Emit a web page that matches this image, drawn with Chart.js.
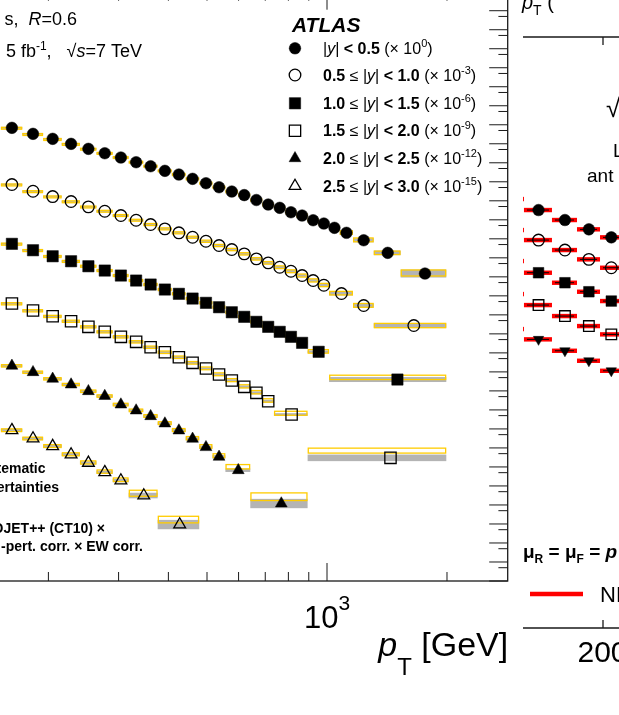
<!DOCTYPE html>
<html><head><meta charset="utf-8">
<script src="https://cdn.jsdelivr.net/npm/chart.js@4.4.1/dist/chart.umd.min.js"></script>
<style>
html,body{margin:0;padding:0;width:619px;height:715px;overflow:hidden;background:#fff;}
#wrapL{position:absolute;left:-90px;top:-20px;width:600px;height:720px;}
#wrapR{position:absolute;left:515px;top:0px;width:104px;height:715px;}
</style></head><body>
<div id="wrapL"><canvas id="cL"></canvas></div>
<div id="wrapR"><canvas id="cR"></canvas></div>
<script>
// ---------------- data: main panel (inclusive jet cross-section, pb/GeV) ----------------
const rapidityLabels = ['|y| < 0.5','0.5 ≤ |y| < 1.0','1.0 ≤ |y| < 1.5','1.5 ≤ |y| < 2.0','2.0 ≤ |y| < 2.5','2.5 ≤ |y| < 3.0'];
const scaleExponents = [0,-3,-6,-9,-12,-15];
const markerStyles = ['circle','circle','rect','rect','triangle','triangle'];
const markerFilled = [true,false,true,false,true,false];

const edges0 = [152,172,194,216,240,264,290,318,346,376,408,442,478,516,556,598,642,688,736,786,838,894,952,1012,1076,1162,1310,1530,1992];
const edges1 = [152,172,194,216,240,264,290,318,346,376,408,442,478,516,556,598,642,688,736,786,838,894,952,1012,1162,1310,1992];
const edges2 = [152,172,194,216,240,264,290,318,346,376,408,442,478,516,556,598,642,688,736,786,838,894,1012,1992];
const edges3 = [152,172,194,216,240,264,290,318,346,376,408,442,478,516,556,598,642,688,736,894,1992];
const edges4 = [152,172,194,216,240,264,290,318,346,376,408,442,478,516,556,642,894];
const edges5 = [152,172,194,216,240,264,290,318,376,478];

const xsec0 = [689,333,182,99,54,31.8,18.9,10.7,6.58,3.77,2.41,1.43,0.84,0.516,0.307,0.2,0.11,0.0636,0.0427,0.025,0.0168,0.0095,0.00637,0.00379,0.00207,0.00084,0.000183,1.49e-5];
const xsec1 = [716,318,167,91.4,48.1,28.2,16.8,9.5,5.64,3.35,2.07,1.21,0.747,0.444,0.273,0.162,0.0885,0.0544,0.032,0.0197,0.0117,0.00638,0.00361,0.00132,0.000309,2.74e-5];
const xsec2 = [545,251,121,66.2,36.1,21.4,11.7,6.38,3.94,2.15,1.28,0.721,0.429,0.252,0.137,0.0787,0.043,0.0234,0.0128,0.00698,0.00337,0.00114,3.96e-5];
const xsec3 = [394,169,84.5,46.1,23.4,12.8,6.98,3.81,1.98,1.08,0.59,0.299,0.15,0.0726,0.0351,0.0164,0.00791,0.00286,0.00057,3.01e-6];
const xsec4 = [208,95.9,43.1,21.6,9.6,5.37,1.91,0.927,0.465,0.192,0.0822,0.0301,0.0109,0.0034,0.00067,1.19e-5];
const xsec5 = [85.3,31.2,12.3,4.49,1.64,0.526,0.193,0.0313,0.00093];

// systematic uncertainty of the data (percent, grey boxes)
const sys0 = [13,12,12,11,11,11,11,11,11,11,12,12,12,12,13,13,14,14,15,15,16,17,19,21,24,28,32,62];
const sys1 = [13,12,12,12,12,12,12,12,12,12,12,13,13,13,14,14,15,15,16,17,18,20,22,25,30,32];
const sys2 = [13,12,12,12,12,12,12,12,13,13,13,13,14,14,15,15,16,17,18,20,22,18,35];
const sys3 = [14,13,13,13,13,13,13,14,14,14,15,15,16,17,18,19,20,20,18,49];
const sys4 = [16,15,15,15,15,16,16,17,18,19,20,21,22,23,23,76];
const sys5 = [20,19,19,20,21,22,24,40,76];
// NLOJET++ prediction relative to data (ratio) and its uncertainty (percent, yellow boxes)
const thRatio0 = [0.95,0.92,0.92,0.94,0.96,0.98,1,1,1,1,1,1,1,1,1,1,1,1,1,1,1,1,1,1,1.03,1.05,1.0,1.07];
const thRatio1 = [0.95,0.95,0.96,0.97,0.98,1,1,1,1,1,1,1,1,1,1,1,1,1,1,1,1,1.02,1.03,1.05,1.02,1.0];
const thRatio2 = [0.96,0.96,0.97,0.98,1,1,1,1,1,1,1,1,1,1,1,1.02,1.02,1.03,1.05,1.05,1.08,1.05,1.3];
const thRatio3 = [0.97,0.97,0.98,1,1,1,1,1,1,1,1,1,1.02,1.03,1.05,1.06,1.08,1.1,1.17,2.4];
const thRatio4 = [1,1,1,1,1,1,1,1.02,1.03,1.05,1.06,1.08,1.1,1.15,1.53,2.28];
const thRatio5 = [1,1,1.02,1.03,1.05,1.08,1.1,1.32,1.83];
const thUnc0 = [12,12,12,12,12,12,12,12,12,12,13,13,13,13,14,14,15,15,16,17,18,19,20,22,24,26,23,44];
const thUnc1 = [12,12,12,12,12,12,12,12,13,13,13,13,14,14,15,15,16,17,18,19,20,21,22,24,26,30];
const thUnc2 = [13,13,13,13,13,13,13,13,14,14,14,15,15,16,16,17,18,19,20,21,22,24,30];
const thUnc3 = [14,14,14,14,14,14,15,15,15,16,16,17,18,19,20,21,22,23,27,35];
const thUnc4 = [15,15,15,15,16,16,17,17,18,19,20,22,24,26,30,59];
const thUnc5 = [18,18,19,20,21,22,24,44,49];

const allEdges = [edges0,edges1,edges2,edges3,edges4,edges5];
const allXsec = [xsec0,xsec1,xsec2,xsec3,xsec4,xsec5];
const allSys = [sys0,sys1,sys2,sys3,sys4,sys5];
const allThR = [thRatio0,thRatio1,thRatio2,thRatio3,thRatio4,thRatio5];
const allThU = [thUnc0,thUnc1,thUnc2,thUnc3,thUnc4,thUnc5];

// axis ticks of the main panel
const xMajorTicks = [100,1000];
const xMinorTicks = [200,300,400,500,600,700,800,900,2000];
const xTickLabels = [{value:1000, base:'10', exp:'3'}];
const yDecadeExponents = [-21,-20,-19,-18,-17,-16,-15,-14,-13,-12,-11,-10,-9,-8,-7,-6,-5,-4,-3,-2,-1,0,1,2,3,4,5,6,7,8,9,10];

// ---------------- data: partially visible right panel ----------------
const rEdges = [1086,1269,1491,1722,1966,2230];
const rStyles = ['circle','circle','rect','rect','triangle'];
const rFilled = [true,false,true,false,true];
const rRot = [0,0,0,0,180];
const rData = [
  [3.16e-4,8.38e-5,2.51e-5,8.15e-6,3.1e-6],
  [7.48e-6,2.23e-6,6.68e-7,2.17e-7,7.87e-8],
  [1.77e-7,4.31e-8,1.29e-8,4.34e-9,1.41e-9],
  [3.28e-9,8.69e-10,2.3e-10,6.87e-11,2.52e-11],
  [4.79e-11,1.38e-11,3.48e-12,1.04e-12,3.1e-13]
];
const rNLO = [
  [3.16e-4,8.38e-5,2.51e-5,8.15e-6,3.1e-6],
  [7.48e-6,2.23e-6,6.68e-7,2.17e-7,7.87e-8],
  [1.77e-7,4.31e-8,1.29e-8,4.34e-9,1.41e-9],
  [3.28e-9,8.69e-10,2.3e-10,6.87e-11,2.52e-11],
  [4.79e-11,1.38e-11,3.48e-12,1.04e-12,3.1e-13]
];
const rXTicks = [2000];
const rXTickLabels = ['2000'];

// ---------------- styling ----------------
const FF = '"Liberation Sans", Arial, Helvetica, sans-serif';
const YELLOW = '#ffcc00';
const GREY = '#b4b4b4';
const AXIS = '#1a1a1a';
const OFFL = {x:90, y:20};   // page offset of left canvas
const OFFR = {x:-515, y:0};

function centers(e){ const c=[]; for(let i=0;i<e.length-1;i++) c.push((e[i]+e[i+1])/2); return c; }

function rich(ctx, x, y, segs, align){
  let w=0;
  segs.forEach(s=>{ ctx.font=s[1]; w+=ctx.measureText(s[0]).width; });
  let cx = align==='right' ? x-w : align==='center' ? x-w/2 : x;
  segs.forEach(s=>{ ctx.font=s[1]; ctx.fillText(s[0], cx, y+(s[2]||0)); cx+=ctx.measureText(s[0]).width; });
  return w;
}
function f(sz, st){ return (st?st+' ':'')+sz+'px '+FF; }

function markerRadius(style){ return style==='rect' ? 8 : style==='triangle' ? 6.8 : 5.8; }

// ---------------- main chart ----------------
const datasets = allXsec.map((vals,k)=>{
  const c = centers(allEdges[k]);
  const sc = Math.pow(10, scaleExponents[k]);
  return {
    label: rapidityLabels[k],
    data: vals.map((v,i)=>({x:c[i], y:v*sc})),
    showLine:false,
    pointStyle: markerStyles[k],
    pointRadius: markerRadius(markerStyles[k]),
    pointBackgroundColor: markerFilled[k] ? '#000' : 'rgba(0,0,0,0)',
    pointBorderColor:'#000',
    pointBorderWidth: markerFilled[k] ? 0.5 : 1.3,
    clip:false
  };
});

const boxPlugin = {
  id:'boxes',
  beforeDatasetsDraw(chart){
    const {ctx, chartArea:ca, scales:{x,y}} = chart;
    ctx.save();
    ctx.beginPath(); ctx.rect(ca.left, ca.top, ca.width, ca.height); ctx.clip();
    allXsec.forEach((vals,k)=>{
      const sc = Math.pow(10, scaleExponents[k]); const e = allEdges[k];
      vals.forEach((v,i)=>{
        const val=v*sc, g=1+allSys[k][i]/100;
        const x0=x.getPixelForValue(e[i]), x1=x.getPixelForValue(e[i+1]);
        const yt=y.getPixelForValue(val*g), yb=y.getPixelForValue(val/g);
        ctx.fillStyle=GREY; ctx.fillRect(x0, yt, x1-x0, yb-yt);
      });
    });
    allXsec.forEach((vals,k)=>{
      const sc = Math.pow(10, scaleExponents[k]); const e = allEdges[k];
      vals.forEach((v,i)=>{
        const th=v*sc*allThR[k][i], g=1+allThU[k][i]/100;
        const x0=x.getPixelForValue(e[i]), x1=x.getPixelForValue(e[i+1]);
        const yt=y.getPixelForValue(th*g), yb=y.getPixelForValue(th/g);
        ctx.strokeStyle=YELLOW; ctx.lineWidth=1.3;
        ctx.strokeRect(x0+0.65, yt, x1-x0-1.3, Math.max(yb-yt,1.2));
      });
    });
    ctx.restore();
  },
  afterDraw(chart){
    const {ctx, chartArea:ca, scales:{x,y}} = chart;
    ctx.save();
    // frame
    ctx.strokeStyle=AXIS; ctx.lineWidth=1.3;
    ctx.strokeRect(ca.left, ca.top, ca.width, ca.height);
    ctx.lineWidth=1;
    ctx.beginPath();
    xMajorTicks.forEach(v=>{ const px=x.getPixelForValue(v); ctx.moveTo(px,ca.bottom); ctx.lineTo(px,ca.bottom-18); ctx.moveTo(px,ca.top); ctx.lineTo(px,ca.top+18); });
    xMinorTicks.forEach(v=>{ const px=x.getPixelForValue(v); ctx.moveTo(px,ca.bottom); ctx.lineTo(px,ca.bottom-9); ctx.moveTo(px,ca.top); ctx.lineTo(px,ca.top+9); });
    yDecadeExponents.forEach(n=>{
      const py=y.getPixelForValue(Math.pow(10,n)); ctx.moveTo(ca.right,py); ctx.lineTo(ca.right-18.5,py);
      const pm=y.getPixelForValue(5*Math.pow(10,n-1)); if(pm<ca.bottom-1){ ctx.moveTo(ca.right,pm); ctx.lineTo(ca.right-9.3,pm); }
    });
    ctx.stroke();
    ctx.fillStyle='#000'; ctx.textBaseline='alphabetic'; ctx.textAlign='left';
    // tick label 10^3
    xTickLabels.forEach(t=>{ rich(ctx, x.getPixelForValue(t.value), ca.bottom+47, [[t.base,f(31)],[t.exp,f(21),-18]], 'center'); });
    // axis title
    rich(ctx, ca.right+0.5, ca.bottom+75, [['p',f(34,'italic')],['T',f(24),19],[' [GeV]',f(34)]], 'right');
    ctx.translate(OFFL.x, OFFL.y);   // page coordinates for annotations
    rich(ctx, 77, 25, [['s,  ',f(18)],['R',f(18,'italic')],['=0.6',f(18)]], 'right');
    rich(ctx, 142, 57, [['5 fb',f(18)],['-1',f(12),-7],[',   ',f(18)],['√',f(18)],['s',f(18,'italic')],['=7 TeV',f(18)]], 'right');
    ctx.font=f(21,'italic bold'); ctx.fillText('ATLAS', 292, 32);
    const rowY=[48.3,75,103.3,130.7,158.3,186];
    const B=f(16,'bold'), N=f(16), I=f(16,'italic'), S=f(11);
    const legendSegs = [
      [['|',N],['y',I],['| ',N],['< 0.5 ',B],['(× 10',N],['0',S,-7],[')',N]],
      [['0.5 ',B],['≤ ',N],['|',N],['y',I],['| ',N],['< 1.0 ',B],['(× 10',N],['-3',S,-7],[')',N]],
      [['1.0 ',B],['≤ ',N],['|',N],['y',I],['| ',N],['< 1.5 ',B],['(× 10',N],['-6',S,-7],[')',N]],
      [['1.5 ',B],['≤ ',N],['|',N],['y',I],['| ',N],['< 2.0 ',B],['(× 10',N],['-9',S,-7],[')',N]],
      [['2.0 ',B],['≤ ',N],['|',N],['y',I],['| ',N],['< 2.5 ',B],['(× 10',N],['-12',S,-7],[')',N]],
      [['2.5 ',B],['≤ ',N],['|',N],['y',I],['| ',N],['< 3.0 ',B],['(× 10',N],['-15',S,-7],[')',N]]
    ];
    rowY.forEach((ry,k)=>{
      ctx.fillStyle = markerFilled[k] ? '#000' : 'rgba(0,0,0,0)';
      ctx.strokeStyle='#000'; ctx.lineWidth = markerFilled[k]?0.5:1.3;
      Chart.helpers.drawPoint(ctx, {pointStyle:markerStyles[k], radius:markerRadius(markerStyles[k]), rotation:0, borderWidth:ctx.lineWidth}, 295, ry);
      ctx.fillStyle='#000';
      rich(ctx, 323, ry+5.5, legendSegs[k], 'left');
    });
    ctx.font=f(14,'bold'); ctx.textAlign='right';
    ctx.fillText('tematic', 45.5, 473);
    ctx.fillText('ertainties', 59, 492);
    ctx.fillText('OJET++ (CT10) ×', 105, 533);
    ctx.fillText('-pert. corr. × EW corr.', 143, 551);
    ctx.restore();
  }
};

new Chart(document.getElementById('cL'), {
  type:'scatter',
  data:{datasets},
  options:{
    responsive:true, maintainAspectRatio:false, devicePixelRatio:1, animation:false, events:[],
    layout:{autoPadding:false, padding:{left:18.4, right:2.3, top:11.7, bottom:119}},
    scales:{
      x:{type:'logarithmic', min:100, max:2840, display:false},
      y:{type:'logarithmic', min:1e-21, max:1e10, display:false}
    },
    plugins:{legend:{display:false}, tooltip:{enabled:false}}
  },
  plugins:[boxPlugin]
});

// ---------------- right (partial) chart ----------------
const rc = centers(rEdges);
const rDatasets = rData.map((row,k)=>({
  data: row.map((v,i)=>({x:rc[i], y:v})),
  showLine:false,
  pointStyle:rStyles[k],
  rotation:rRot[k],
  pointRadius: rStyles[k]==='rect'?7.5:rStyles[k]==='triangle'?6:5.8,
  pointBackgroundColor: rFilled[k]?'#000':'rgba(0,0,0,0)',
  pointBorderColor:'#000',
  pointBorderWidth: rFilled[k]?0.5:1.3,
  clip:0
}));

const rPlugin = {
  id:'rdeco',
  beforeDatasetsDraw(chart){
    const {ctx, chartArea:ca, scales:{x,y}} = chart;
    ctx.save();
    ctx.beginPath(); ctx.rect(ca.left, ca.top, ca.width, ca.height); ctx.clip();
    rNLO.forEach((row,k)=>{
      row.forEach((v,i)=>{
        const x0=x.getPixelForValue(rEdges[i]), x1=x.getPixelForValue(rEdges[i+1]);
        const py=y.getPixelForValue(v);
        ctx.fillStyle='#ff0000'; ctx.fillRect(x0, py-2.2, x1-x0, 4.4);
        const pd=y.getPixelForValue(rData[k][i]);
        ctx.fillStyle='#000'; ctx.fillRect(x0+3, pd-0.5, x1-x0-6, 1);
      });
    });
    ctx.restore();
  },
  afterDraw(chart){
    const {ctx, chartArea:ca, scales:{x,y}} = chart;
    ctx.save();
    ctx.strokeStyle=AXIS; ctx.lineWidth=1.3;
    ctx.beginPath();
    ctx.moveTo(ca.left, ca.top); ctx.lineTo(ca.right+5, ca.top);
    ctx.moveTo(ca.left, ca.bottom); ctx.lineTo(ca.right+5, ca.bottom);
    rXTicks.forEach(v=>{ const px=x.getPixelForValue(v); ctx.moveTo(px,ca.top); ctx.lineTo(px,ca.top+8); ctx.moveTo(px,ca.bottom); ctx.lineTo(px,ca.bottom-8); });
    ctx.stroke();
    ctx.fillStyle='#000'; ctx.textBaseline='alphabetic';
    rXTicks.forEach((v,i)=>{ ctx.font=f(30); ctx.textAlign='left'; ctx.fillText(rXTickLabels[i], x.getPixelForValue(v)-25.5, ca.bottom+34); });
    ctx.textAlign='left';
    ctx.translate(OFFR.x, OFFR.y);
    rich(ctx, 522, 9, [['p',f(20,'italic')],['T',f(14),6],[' (',f(20)]], 'left');
    ctx.font=f(26); ctx.fillText('√', 606, 117);
    ctx.font=f(19); ctx.fillText('L', 613, 157);
    ctx.font=f(19); ctx.fillText('ant', 587, 182);
    rich(ctx, 523, 558, [['μ',f(19,'bold')],['R',f(12,'bold'),5],[' = ',f(19,'bold')],['μ',f(19,'bold')],['F',f(12,'bold'),5],[' = ',f(19,'bold')],['p',f(19,'bold italic')]], 'left');
    ctx.strokeStyle='#ff0000'; ctx.lineWidth=4.5; ctx.beginPath(); ctx.moveTo(530,594); ctx.lineTo(583,594); ctx.stroke();
    ctx.font=f(22); ctx.fillText('NL', 600, 602);
    ctx.restore();
  }
};

new Chart(document.getElementById('cR'), {
  type:'scatter',
  data:{datasets:rDatasets},
  options:{
    responsive:true, maintainAspectRatio:false, devicePixelRatio:1, animation:false, events:[],
    layout:{autoPadding:false, padding:{left:8, right:0, top:37, bottom:87}},
    scales:{
      x:{type:'logarithmic', min:1262, max:2193, display:false},
      y:{type:'logarithmic', min:1e-26, max:1e5, display:false}
    },
    plugins:{legend:{display:false}, tooltip:{enabled:false}}
  },
  plugins:[rPlugin]
});
</script>
</body></html>
